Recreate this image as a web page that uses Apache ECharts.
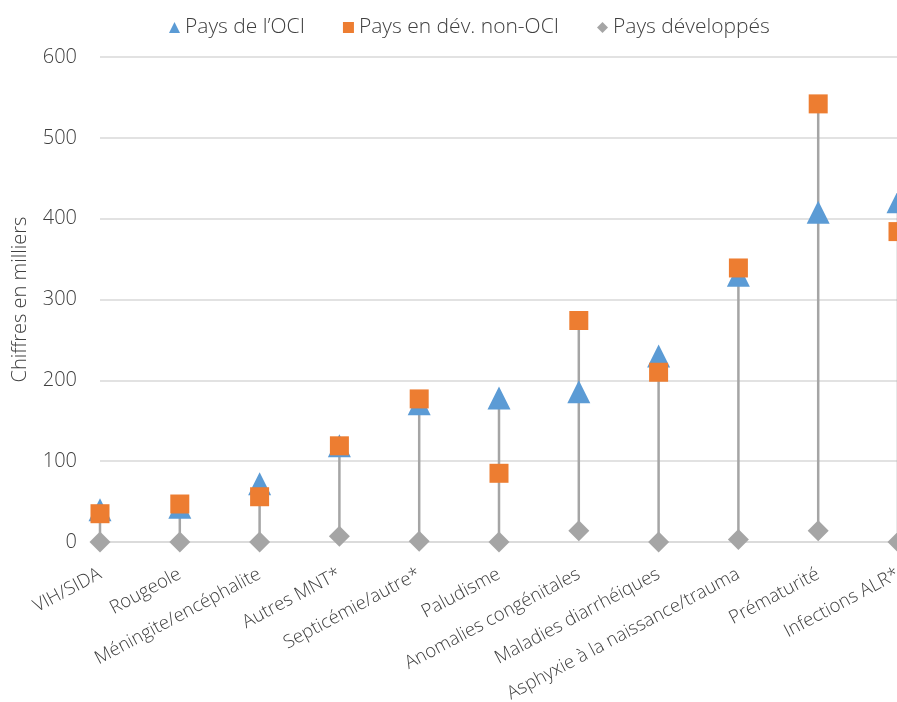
<!DOCTYPE html>
<html>
<head>
<meta charset="utf-8">
<script src="https://cdn.jsdelivr.net/npm/echarts@6/dist/echarts.min.js"></script>
<style>
  html, body { margin: 0; padding: 0; background: #fff; }
  #chart { width: 897px; height: 702px; }
</style>
</head>
<body>
<div id="chart"></div>
<script>
// Causes de décès néonatals (en milliers)
const categories = [
  'VIH/SIDA', 'Rougeole', 'Méningite/encéphalite', 'Autres MNT*',
  'Septicémie/autre*', 'Paludisme', 'Anomalies congénitales',
  'Maladies diarrhéiques', 'Asphyxie à la naissance/trauma',
  'Prématurité', 'Infections ALR*'
];
const seriesNames = ['Pays de l\u2019OCI', 'Pays en dév. non-OCI', 'Pays développés'];
const paysOCI = [40, 43, 72, 119, 171, 178, 186, 230, 330, 408, 421];
const paysNonOCI = [35, 47, 56, 119, 177, 85, 274, 210, 339, 542, 384];
const paysDeveloppes = [0, 0, 0, 7, 1, 0, 14, 0, 3, 14, 0];
const yTicks = [0, 100, 200, 300, 400, 500, 600];

const FONT = '"Open Sans", sans-serif';
const TEXT = '#404040';

// One row per category for the high-low connector
const rangeData = categories.map((c, i) => [i, paysOCI[i], paysNonOCI[i], paysDeveloppes[i]]);

const chart = echarts.init(document.getElementById('chart'), null, { renderer: 'canvas' });

chart.setOption({
  animation: false,
  backgroundColor: '#ffffff',
  legend: {
    top: 12,
    left: 164,
    itemWidth: 11,
    itemHeight: 11,
    itemGap: 38,
    textStyle: { fontFamily: FONT, fontWeight: 300, fontSize: 21, color: TEXT },
    data: [
      { name: seriesNames[0], icon: 'triangle' },
      { name: seriesNames[1], icon: 'rect' },
      { name: seriesNames[2], icon: 'diamond' }
    ]
  },
  grid: {
    left: 100, top: 57, width: 798, height: 485,
    containLabel: false,
    outerBoundsMode: 'none'
  },
  xAxis: {
    type: 'category',
    data: categories,
    boundaryGap: false,
    axisLine: { lineStyle: { color: '#d9d9d9', width: 1.5 } },
    axisTick: { show: false },
    axisLabel: {
      interval: 0,
      rotate: 28,
      margin: 31,
      fontFamily: FONT,
      fontWeight: 300,
      fontSize: 18.5,
      color: TEXT
    }
  },
  yAxis: {
    type: 'value',
    min: yTicks[0],
    max: yTicks[yTicks.length - 1],
    interval: 100,
    name: 'Chiffres en milliers',
    nameLocation: 'middle',
    nameGap: 70,
    nameTextStyle: { fontFamily: FONT, fontWeight: 300, fontSize: 20, color: TEXT },
    axisLine: { show: false },
    axisTick: { show: false },
    axisLabel: { margin: 23, fontFamily: FONT, fontWeight: 300, fontSize: 20, color: TEXT },
    splitLine: { lineStyle: { color: '#d9d9d9', width: 1.5 } }
  },
  series: [
    {
      type: 'custom',
      name: 'hilo',
      silent: true,
      z: 1,
      encode: { x: 0, y: [1, 2, 3] },
      data: rangeData,
      renderItem: function (params, api) {
        const x = api.value(0);
        const vals = [api.value(1), api.value(2), api.value(3)];
        const lo = api.coord([x, Math.min.apply(null, vals)]);
        const hi = api.coord([x, Math.max.apply(null, vals)]);
        return {
          type: 'line',
          shape: { x1: lo[0], y1: lo[1], x2: hi[0], y2: hi[1] },
          style: { stroke: '#a5a5a5', lineWidth: 2.5 }
        };
      }
    },
    {
      name: seriesNames[0],
      type: 'line',
      data: paysOCI,
      z: 3,
      symbol: 'triangle',
      symbolSize: 23,
      lineStyle: { width: 0, opacity: 0 },
      itemStyle: { color: '#5b9bd5' }
    },
    {
      name: seriesNames[1],
      type: 'line',
      data: paysNonOCI,
      z: 4,
      symbol: 'rect',
      symbolSize: 19,
      lineStyle: { width: 0, opacity: 0 },
      itemStyle: { color: '#ed7d31' }
    },
    {
      name: seriesNames[2],
      type: 'line',
      data: paysDeveloppes,
      z: 5,
      symbol: 'diamond',
      symbolSize: 21,
      lineStyle: { width: 0, opacity: 0 },
      itemStyle: { color: '#a5a5a5' }
    }
  ]
});
</script>
</body>
</html>
